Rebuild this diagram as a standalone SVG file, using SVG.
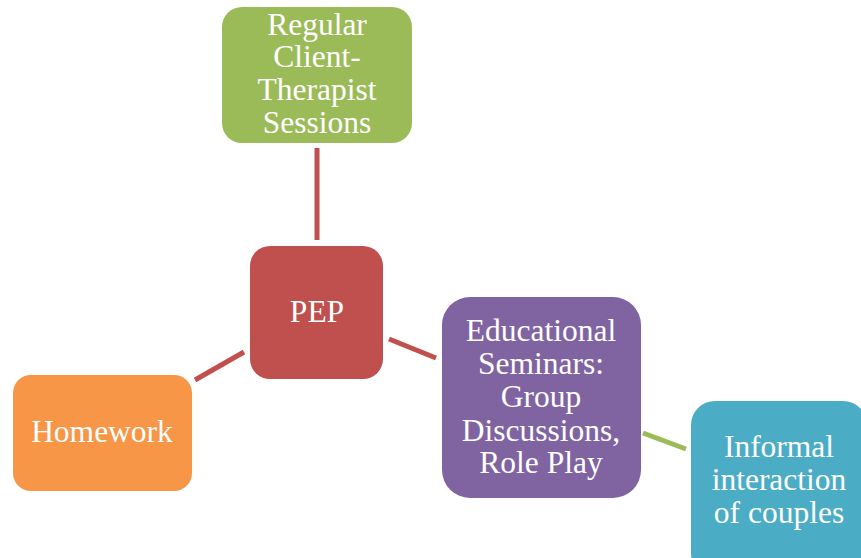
<svg xmlns="http://www.w3.org/2000/svg" width="861" height="558" viewBox="0 0 861 558">
<style>
.node{stroke:none}
.t{font-family:"Liberation Serif","Times New Roman",serif;font-size:31.5px;fill:#ffffff;text-anchor:middle}
.c{stroke-width:5;fill:none;stroke-linecap:butt}
</style>
<rect width="861" height="558" fill="#ffffff"/>
<g id="connectors">
<line class="c" x1="317" y1="148" x2="317" y2="240" stroke="#C0504D"/>
<line class="c" x1="195" y1="380" x2="244" y2="352" stroke="#C0504D"/>
<line class="c" x1="389" y1="339" x2="436" y2="358" stroke="#C0504D"/>
<line class="c" x1="643" y1="433" x2="686" y2="449" stroke="#9BBB59"/>
</g>
<g id="sessions">
<rect class="node" x="222" y="7" width="190" height="136" rx="20" fill="#9BBB59"/>
<text class="t" x="317" y="35">Regular</text>
<text class="t" x="317" y="67">Client-</text>
<text class="t" x="317" y="100">Therapist</text>
<text class="t" x="317" y="133">Sessions</text>
</g>
<g id="pep">
<rect class="node" x="250" y="246" width="133" height="133" rx="20" fill="#C0504D"/>
<text class="t" x="317" y="322">PEP</text>
</g>
<g id="homework">
<rect class="node" x="13" y="375" width="179" height="116" rx="18" fill="#F79646"/>
<text class="t" x="102" y="442">Homework</text>
</g>
<g id="seminars">
<rect class="node" x="442" y="297" width="199" height="201" rx="28" fill="#8064A2"/>
<text class="t" x="541" y="341">Educational</text>
<text class="t" x="541" y="374">Seminars:</text>
<text class="t" x="541" y="407">Group</text>
<text class="t" x="541" y="441">Discussions,</text>
<text class="t" x="541" y="473">Role Play</text>
</g>
<g id="informal">
<rect class="node" x="691" y="401" width="176" height="176" rx="24" fill="#4BACC6"/>
<text class="t" x="779" y="457">Informal</text>
<text class="t" x="779" y="490">interaction</text>
<text class="t" x="779" y="523">of couples</text>
</g>
</svg>
